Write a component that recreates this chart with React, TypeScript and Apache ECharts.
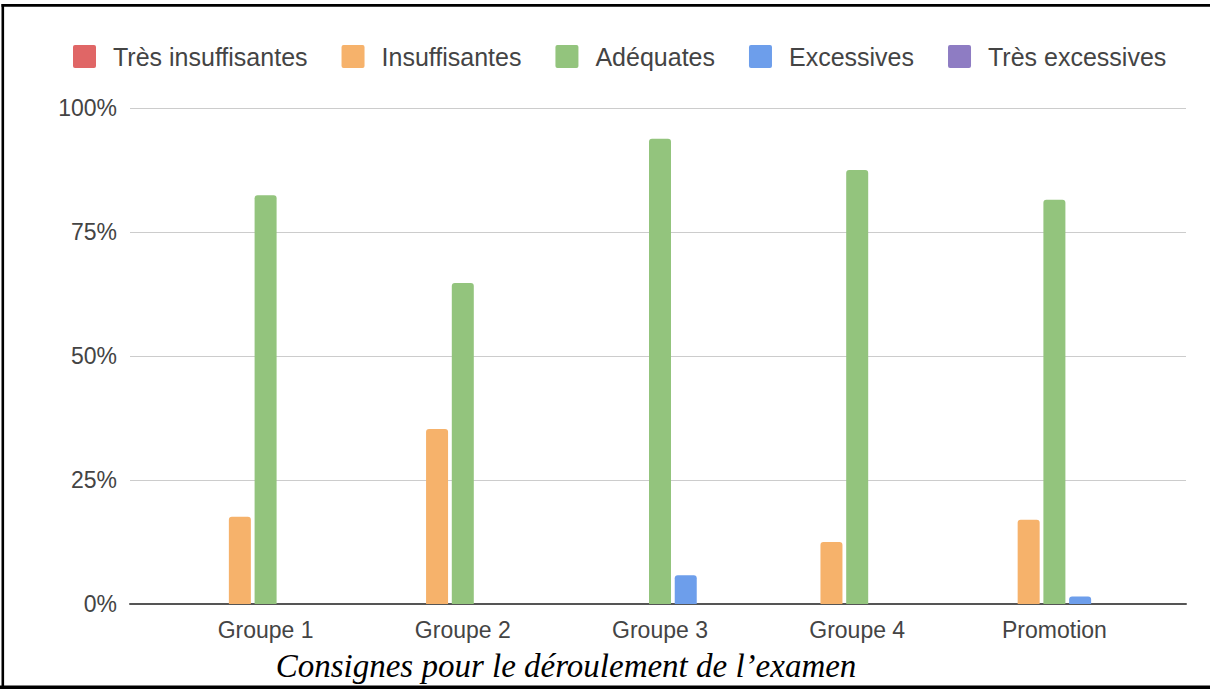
import React, { useEffect, useRef } from "react";
import * as echarts from "echarts";

const categories = ["Groupe 1", "Groupe 2", "Groupe 3", "Groupe 4", "Promotion"];
const seriesNames = ["Très insuffisantes", "Insuffisantes", "Adéquates", "Excessives", "Très excessives"];
const tresInsuffisantes = [0, 0, 0, 0, 0];
const insuffisantes = [17.6, 35.3, 0, 12.5, 17.0];
const adequates = [82.4, 64.7, 93.8, 87.5, 81.5];
const excessives = [0, 0, 5.8, 0, 1.5];
const tresExcessives = [0, 0, 0, 0, 0];
const seriesColors = ["#e06666", "#f6b26b", "#93c47d", "#6d9eeb", "#8e7cc3"];
const yMin = 0;
const yMax = 100;
const yStep = 25;
const captionText = "Consignes pour le déroulement de l’examen";

const W = 1210;
const H = 689;
const SANS = '"Liberation Sans", Arial, Helvetica, sans-serif';
const TEXT = "#444444";
const ICON = "path://M2,0H21Q23,0 23,2V21Q23,23 21,23H2Q0,23 0,21V2Q0,0 2,0Z";

export default function App() {
  const ref = useRef<HTMLDivElement>(null);

  useEffect(() => {
    if (!ref.current) return;
    const chart = echarts.init(ref.current, null, { renderer: "svg" });
    const allData = [tresInsuffisantes, insuffisantes, adequates, excessives, tresExcessives];

    const option: any = {
      animation: false,
      backgroundColor: "#ffffff",
      textStyle: { fontFamily: SANS },
      legend: {
        top: 44,
        left: 73,
        padding: 0,
        itemWidth: 23,
        itemHeight: 23,
        itemGap: 34,
        icon: ICON,
        textStyle: { fontSize: 25, color: TEXT, fontFamily: SANS, padding: [0, 0, 0, 12] },
        data: seriesNames,
      },
      grid: [
        { left: 130, right: W - 1186, top: 108, bottom: H - 604 },
        { left: 167, right: W - 1153, top: 108, bottom: H - 604 },
      ],
      xAxis: [
        {
          gridIndex: 0,
          type: "category",
          data: [""],
          axisLine: { show: true, lineStyle: { color: "#555555", width: 2 } },
          axisTick: { show: false },
          axisLabel: { show: false },
        },
        {
          gridIndex: 1,
          type: "category",
          data: categories,
          axisLine: { show: false },
          axisTick: { show: false },
          axisLabel: { fontSize: 23, color: TEXT, margin: 14, fontFamily: SANS },
        },
      ],
      yAxis: [
        {
          gridIndex: 0,
          type: "value",
          min: yMin,
          max: yMax,
          interval: yStep,
          axisLine: { show: false },
          axisTick: { show: false },
          axisLabel: { formatter: "{value}%", fontSize: 23, color: TEXT, margin: 13, fontFamily: SANS },
          splitLine: { lineStyle: { color: "#cccccc", width: 1 } },
        },
        { gridIndex: 1, type: "value", min: yMin, max: yMax, show: false },
      ],
      series: seriesNames.map((name, i) => ({
        name,
        type: "bar",
        xAxisIndex: 1,
        yAxisIndex: 1,
        data: allData[i],
        barWidth: 22,
        barGap: "17%",
        itemStyle: { color: seriesColors[i], borderRadius: [3, 3, 0, 0] },
      })),
      graphic: [
        { type: "line", shape: { x1: 2.8, y1: 4, x2: 2.8, y2: H }, style: { stroke: "#000", lineWidth: 2.6 } },
        { type: "line", shape: { x1: 1.5, y1: 5.3, x2: W, y2: 5.3 }, style: { stroke: "#000", lineWidth: 2.7 } },
        { type: "line", shape: { x1: 0, y1: 687.5, x2: W, y2: 687.5 }, style: { stroke: "#000", lineWidth: 4 } },
        {
          type: "text",
          x: 566,
          y: 666,
          style: {
            text: captionText,
            font: 'italic 33px "Liberation Serif", "Times New Roman", serif',
            fill: "#000",
            align: "center",
            verticalAlign: "middle",
          },
        },
      ],
    };
    chart.setOption(option);
    return () => chart.dispose();
  }, []);

  return (
    <div
      ref={ref}
      style={{ position: "absolute", left: 0, top: 0, width: W, height: H }}
    />
  );
}
